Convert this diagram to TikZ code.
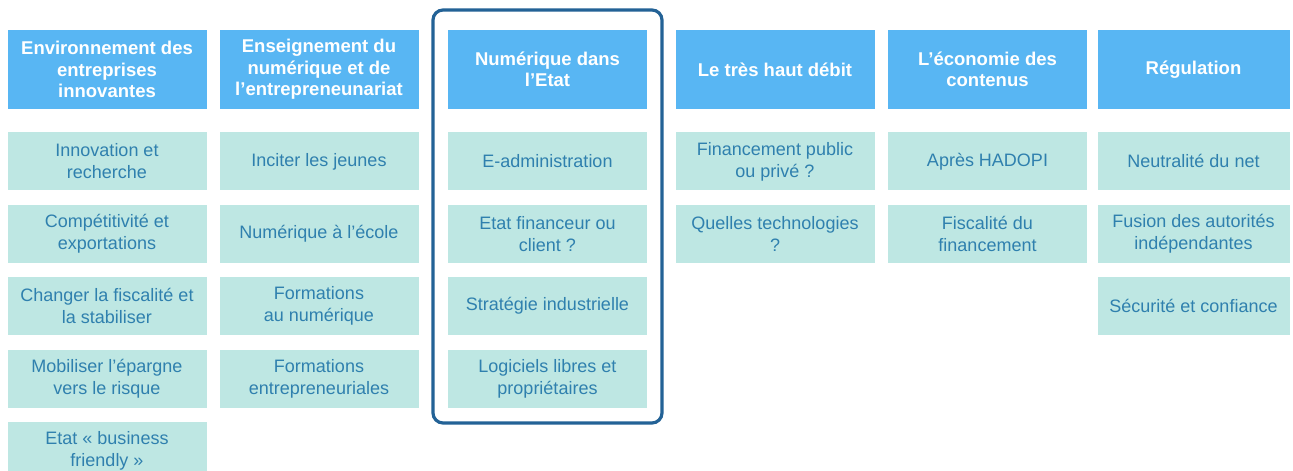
\documentclass[tikz,border=0pt]{standalone}
\usepackage{fontspec}
\setmainfont{Liberation Sans}
\usepackage{xcolor}
\usetikzlibrary{positioning}
\definecolor{headB}{HTML}{58B6F3}
\definecolor{itemC}{HTML}{BEE7E3}
\definecolor{itemT}{HTML}{2F80AE}
\definecolor{frameB}{HTML}{236296}

\begin{document}
\begin{tikzpicture}[
  x=1pt, y=-1pt,
  every node/.style={inner sep=2pt, align=center},
  head/.style={rectangle, fill=headB, text=white, font=\fontsize{18.5}{21.5}\selectfont\bfseries,
               minimum width=199pt, minimum height=79pt},
  item/.style={rectangle, fill=itemC, text=itemT, font=\fontsize{18}{22}\selectfont,
               minimum width=199pt, minimum height=58pt},
  frm/.style={draw=frameB, line width=3.2pt, rounded corners=10pt}
]
  \useasboundingbox[fill=white] (0,0) rectangle (1293,471);
  % en-tetes
  \node[head] (env) at (107,69.5) {Environnement des\\ entreprises\\ innovantes};
  \node[head] (ens) at (319,69.5) {Enseignement du\\ numérique et de\\ l'entrepreneunariat};
  \node[head] (num) at (547.5,69.5) {Numérique dans\\ l'Etat};
  \node[head] (thd) at (775,69.5) {Le très haut débit};
  \node[head] (eco) at (987.5,69.5) {L'économie des\\ contenus};
  \node[head, minimum width=192pt] (reg) at (1193.5,69.5) {Régulation};
  % colonne 1
  \node[item, below=23pt of env] (env1) {Innovation et\\ recherche};
  \node[item, below=14pt of env1] (env2) {Compétitivité et\\ exportations};
  \node[item, below=14pt of env2] (env3) {Changer la fiscalité et\\ la stabiliser};
  \node[item, below=14pt of env3] (env4) {Mobiliser l'épargne\\ vers le risque};
  \node[item, below=14pt of env4] (env5) {Etat « business\\ friendly »};
  % colonne 2
  \node[item, below=23pt of ens] (ens1) {Inciter les jeunes};
  \node[item, below=14pt of ens1] (ens2) {Numérique à l'école};
  \node[item, below=14pt of ens2] (ens3) {Formations\\ au numérique};
  \node[item, below=14pt of ens3] (ens4) {Formations\\ entrepreneuriales};
  % colonne 3
  \node[item, below=23pt of num] (num1) {E-administration};
  \node[item, below=14pt of num1] (num2) {Etat financeur ou\\ client ?};
  \node[item, below=14pt of num2] (num3) {Stratégie industrielle};
  \node[item, below=14pt of num3] (num4) {Logiciels libres et\\ propriétaires};
  % colonne 4
  \node[item, below=23pt of thd] (thd1) {Financement public\\ ou privé ?};
  \node[item, below=14pt of thd1] (thd2) {Quelles technologies\\ ?};
  % colonne 5
  \node[item, below=23pt of eco] (eco1) {Après HADOPI};
  \node[item, below=14pt of eco1] (eco2) {Fiscalité du\\ financement};
  % colonne 6
  \node[item, minimum width=192pt, below=23pt of reg] (reg1) {Neutralité du net};
  \node[item, minimum width=192pt, below=14pt of reg1] (reg2) {Fusion des autorités\\ indépendantes};
  \node[item, minimum width=192pt, below=14pt of reg2] (reg3) {Sécurité et confiance};
  % cadre
  \draw[frm] (433,10) rectangle (662,423);
\end{tikzpicture}
\end{document}
